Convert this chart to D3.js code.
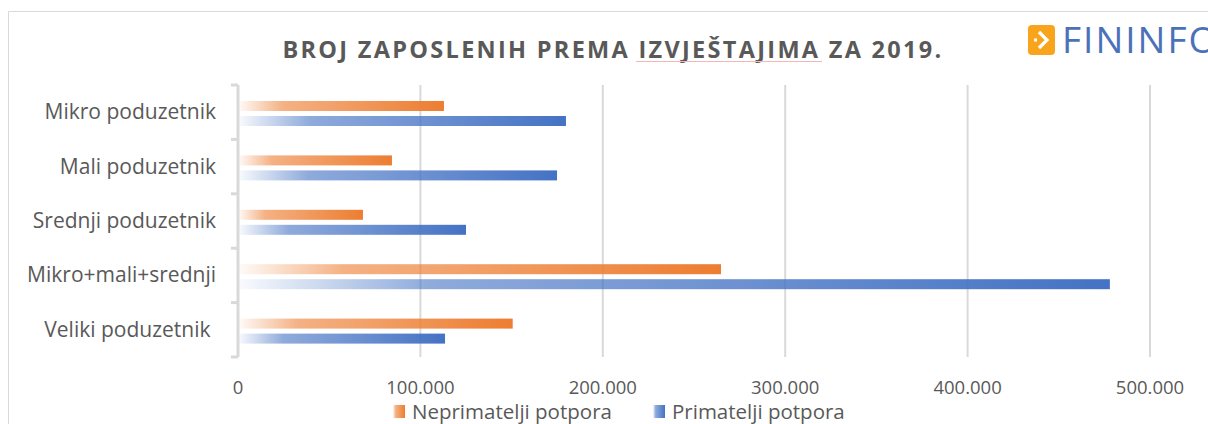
<!DOCTYPE html>
<html>
<head>
<meta charset="utf-8">
<script src="https://cdn.jsdelivr.net/npm/d3@7"></script>
<style>
  html, body { margin: 0; padding: 0; background: #fff; }
  svg { display: block; }
</style>
</head>
<body>
<svg width="1208" height="424"></svg>
<script>
// data (broj zaposlenih)
const categories = ['Mikro poduzetnik', 'Mali poduzetnik', 'Srednji poduzetnik', 'Mikro+mali+srednji', 'Veliki poduzetnik ']
const neprimatelji = [112900, 84400, 68500, 264800, 150600]
const primatelji = [179800, 174900, 125000, 478000, 113500]
const xTicks = [0, 100000, 200000, 300000, 400000, 500000]
const seriesNames = ['Neprimatelji potpora', 'Primatelji potpora']
const seriesColors = ['#ED7D31', '#4472C4']

const svg = d3.select('svg')
const font = "'Open Sans', 'Noto Sans', sans-serif"
const textColor = '#595959'

// chart frame
svg.append('path')
  .attr('d', 'M8.5,424 V11.5 H1208')
  .attr('fill', 'none')
  .attr('stroke', '#d9d9d9')
  .attr('stroke-width', 1)

// gradients
const defs = svg.append('defs')
seriesColors.forEach((c, i) => {
  const g = defs.append('linearGradient')
    .attr('id', 'grad' + i)
    .attr('x1', 0).attr('x2', 1).attr('y1', 0).attr('y2', 0)
  g.append('stop').attr('offset', 0).attr('stop-color', c).attr('stop-opacity', 0.03)
  g.append('stop').attr('offset', 0.22).attr('stop-color', c).attr('stop-opacity', 0.6)
  g.append('stop').attr('offset', 1).attr('stop-color', c).attr('stop-opacity', 1)
})

const x = d3.scaleLinear().domain([0, 500000]).range([238, 1150])
const y = d3.scaleBand().domain(categories).range([85, 357])

// gridlines
svg.append('g')
  .selectAll('line')
  .data(xTicks.slice(1))
  .join('line')
  .attr('x1', d => x(d)).attr('x2', d => x(d))
  .attr('y1', 85).attr('y2', 357)
  .attr('stroke', '#d9d9d9')
  .attr('stroke-width', 2)

// x tick labels
svg.append('g')
  .selectAll('text')
  .data(xTicks)
  .join('text')
  .attr('x', d => x(d))
  .attr('y', 394)
  .attr('text-anchor', 'middle')
  .attr('font-family', font)
  .attr('font-size', 18.5)
  .attr('fill', textColor)
  .text(d => d === 0 ? '0' : d3.format(',')(d).replace(/,/g, '.'))

// bars
const barH = 10
const series = [neprimatelji, primatelji]
series.forEach((vals, si) => {
  svg.append('g')
    .selectAll('rect')
    .data(categories)
    .join('rect')
    .attr('x', x(0))
    .attr('y', (d) => y(d) + 16 + si * (barH + 5))
    .attr('width', (d, i) => x(vals[i]) - x(0))
    .attr('height', barH)
    .attr('fill', `url(#grad${si})`)
})

// y axis line with ticks
const axisG = svg.append('g').attr('stroke', '#d9d9d9').attr('stroke-width', 3).attr('fill', 'none')
axisG.append('line').attr('x1', 238).attr('x2', 238).attr('y1', 85).attr('y2', 357)
const bounds = categories.map(c => y(c)).concat([y.range()[1]])
axisG.selectAll('line.tick')
  .data(bounds)
  .join('line')
  .attr('class', 'tick')
  .attr('x1', 231).attr('x2', 238)
  .attr('y1', d => d).attr('y2', d => d)

// category labels
svg.append('g')
  .selectAll('text')
  .data(categories)
  .join('text')
  .attr('x', 216)
  .attr('y', d => y(d) + y.bandwidth() / 2 + 7)
  .attr('text-anchor', 'end')
  .attr('font-family', font)
  .attr('font-size', 21)
  .attr('fill', textColor)
  .style('white-space', 'pre')
  .text(d => d)

// title
svg.append('text')
  .attr('x', 613)
  .attr('y', 58)
  .attr('text-anchor', 'middle')
  .attr('font-family', font)
  .attr('font-size', 23.5)
  .attr('font-weight', 'bold')
  .attr('letter-spacing', 2.3)
  .attr('fill', textColor)
  .text('BROJ ZAPOSLENIH PREMA IZVJEŠTAJIMA ZA 2019.')

// faint spell-check underline
svg.append('line')
  .attr('x1', 636).attr('x2', 822)
  .attr('y1', 61.5).attr('y2', 61.5)
  .attr('stroke', '#f2b8b8')
  .attr('stroke-width', 1)

// logo
const logo = svg.append('g')
logo.append('rect')
  .attr('x', 1028).attr('y', 25).attr('width', 27).attr('height', 30)
  .attr('rx', 4).attr('fill', '#F8A51C')
logo.append('path')
  .attr('d', 'M1039,32 L1047,40 L1039,48')
  .attr('fill', 'none').attr('stroke', '#fff').attr('stroke-width', 3.2)
logo.append('rect')
  .attr('x', 1034).attr('y', 38.5).attr('width', 3).attr('height', 3).attr('fill', '#fff')
logo.append('text')
  .attr('x', 1062).attr('y', 53)
  .attr('font-family', "'Open Sans', sans-serif")
  .attr('font-size', 37)
  .attr('letter-spacing', 2)
  .attr('fill', '#4B72B8')
  .text('FININFO')

// legend
const legendX = [393, 653]
seriesNames.forEach((name, i) => {
  const g = svg.append('g').attr('transform', `translate(${legendX[i]},0)`)
  g.append('rect')
    .attr('x', 0).attr('y', 405).attr('width', 12).attr('height', 13)
    .attr('fill', `url(#grad${i})`)
  g.append('text')
    .attr('x', 19).attr('y', 419)
    .attr('font-family', font)
    .attr('font-size', 20.5)
    .attr('fill', textColor)
    .text(name)
})
</script>
</body>
</html>
